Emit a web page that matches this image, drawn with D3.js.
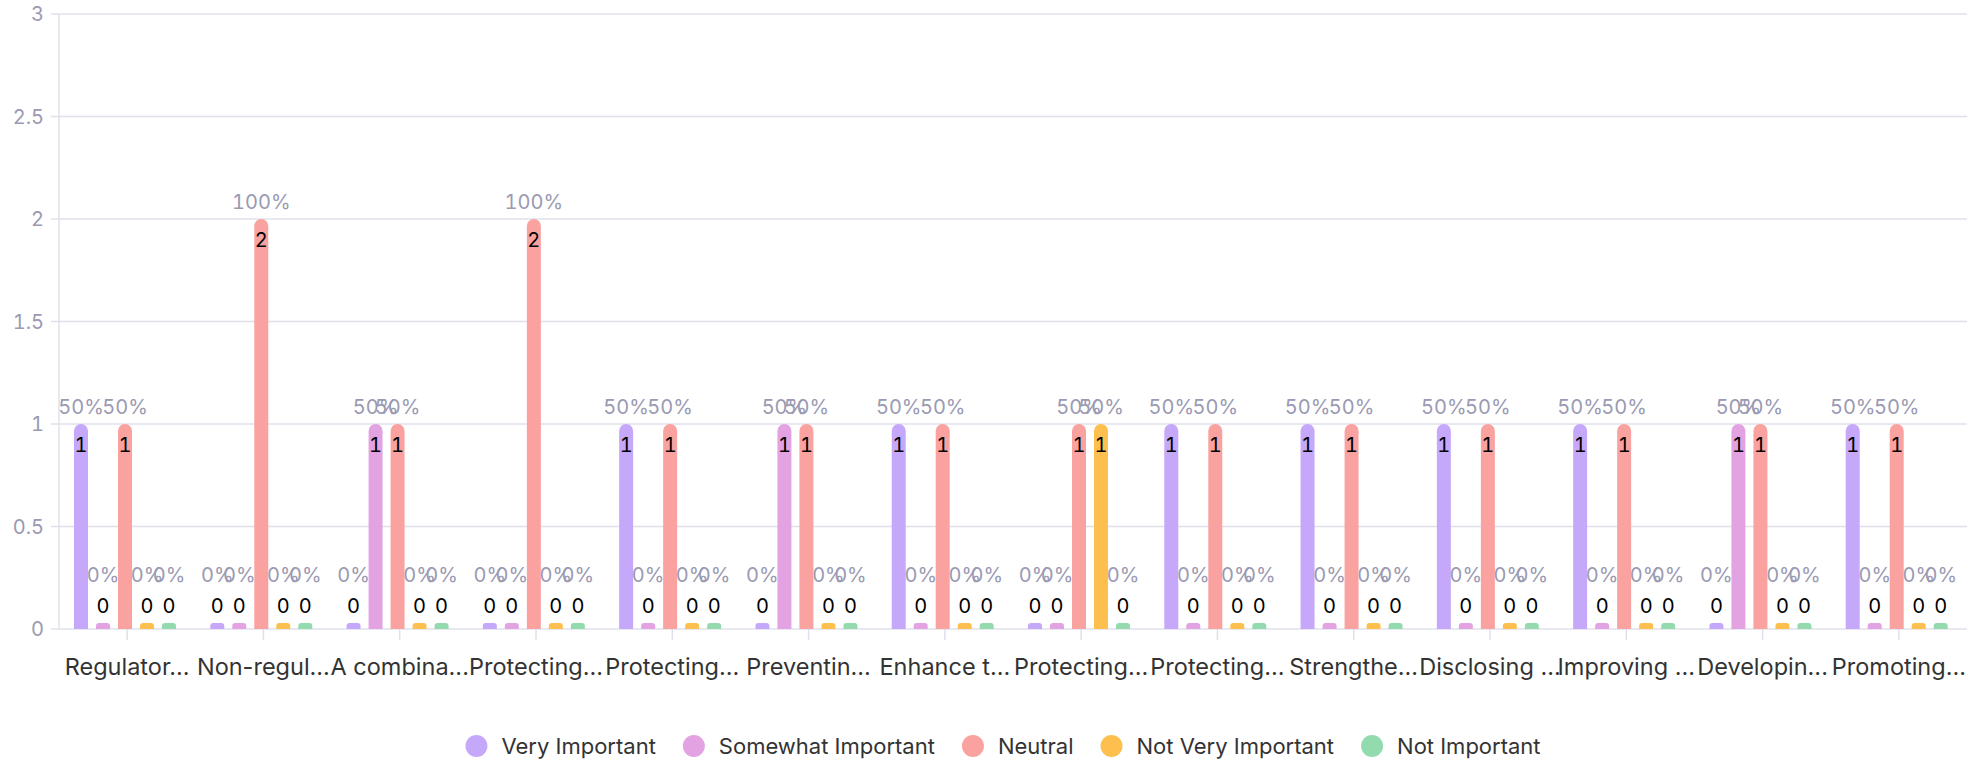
<!DOCTYPE html>
<html><head><meta charset="utf-8">
<script src="https://cdn.jsdelivr.net/npm/d3@7"></script>
<style>
html,body{margin:0;padding:0;background:#fff;}
svg{display:block;font-family:Inter,"Noto Sans",sans-serif;}
.num{font-variant-numeric:tabular-nums;font-feature-settings:"tnum" 1;}
</style></head>
<body><svg id="chart" width="1969" height="762"></svg>
<script>
const categories = ["Regulator...","Non-regul...","A combina...","Protecting...","Protecting...","Preventin...","Enhance t...","Protecting...","Protecting...","Strengthe...","Disclosing ...","Improving ...","Developin...","Promoting..."];
const seriesNames = ["Very Important","Somewhat Important","Neutral","Not Very Important","Not Important"];
const veryImportant     = [1,0,0,0,1,0,1,0,1,1,1,1,0,1];
const somewhatImportant = [0,0,1,0,0,1,0,0,0,0,0,0,1,0];
const neutral           = [1,2,1,2,1,1,1,1,1,1,1,1,1,1];
const notVeryImportant  = [0,0,0,0,0,0,0,1,0,0,0,0,0,0];
const notImportant      = [0,0,0,0,0,0,0,0,0,0,0,0,0,0];
const yTicks = [0,0.5,1,1.5,2,2.5,3];
const seriesValues = [veryImportant,somewhatImportant,neutral,notVeryImportant,notImportant];
const colors = ["#c6a8fb","#e3a3e3","#f9a2a0","#fdc04f","#93dbae"];

const svg = d3.select("#chart");
const pLeft=59, pRight=1967, pTop=14, pBottom=629;
const x = d3.scaleBand().domain(d3.range(categories.length)).range([pLeft,pRight]).padding(0);
const y = d3.scaleLinear().domain([0,3]).range([pBottom,pTop]);
const inner = d3.scaleBand().domain(d3.range(seriesNames.length)).range([15,117]).paddingInner(0.364).paddingOuter(0);

// gridlines
const grid = svg.append("g");
grid.selectAll("line").data(yTicks).join("line")
  .attr("x1",pLeft-8).attr("x2",pRight).attr("y1",d=>y(d)).attr("y2",d=>y(d))
  .attr("stroke","#e0e0eb").attr("stroke-width",1.5);
svg.append("line").attr("x1",pLeft).attr("x2",pLeft).attr("y1",pTop).attr("y2",pBottom)
  .attr("stroke","#e0e0eb").attr("stroke-width",1.5);
svg.append("g").selectAll("text").data(yTicks).join("text").attr("class","num")
  .attr("x",44).attr("y",d=>y(d)).attr("dy","0.36em").attr("text-anchor","end")
  .attr("fill","#9a9ab2").attr("font-size",20).text(d=>d);
// x ticks
svg.append("g").selectAll("line").data(d3.range(categories.length)).join("line")
  .attr("x1",i=>x(i)+x.bandwidth()/2).attr("x2",i=>x(i)+x.bandwidth()/2)
  .attr("y1",pBottom).attr("y2",pBottom+11).attr("stroke","#e0e0eb").attr("stroke-width",1.5);
svg.append("g").selectAll("text").data(categories).join("text")
  .attr("x",(d,i)=>x(i)+x.bandwidth()/2).attr("y",675).attr("text-anchor","middle")
  .attr("fill","#333").attr("font-size",23.5).text(d=>d);

// bars
const totals = categories.map((c,i)=>d3.sum(seriesValues,s=>s[i]));
const bw = inner.bandwidth();
function barPath(x0,w,yTop,yBase){
  const h=yBase-yTop; const r=Math.min(w/2,h/2);
  return `M${x0},${yBase}V${yTop+r}A${r},${r} 0 0 1 ${x0+r},${yTop}H${x0+w-r}A${r},${r} 0 0 1 ${x0+w},${yTop+r}V${yBase}Z`;
}
const barsG = svg.append("g"), lblG = svg.append("g");
seriesValues.forEach((vals,si)=>{
  vals.forEach((v,ci)=>{
    const bx = x(ci)+inner(si);
    const cx = bx+bw/2;
    const yTop = v>0 ? y(v) : pBottom-6;
    barsG.append("path").attr("d",barPath(bx,bw,yTop,pBottom)).attr("fill",colors[si]);
    const pct = Math.round(v/totals[ci]*100)+"%";
    if(v>0){
      lblG.append("text").attr("class","num").attr("x",cx).attr("y",yTop+21).attr("dy","0.36em").attr("text-anchor","middle")
        .attr("fill","#000").attr("font-size",20).text(v);
      lblG.append("text").attr("class","num").attr("x",cx).attr("y",yTop-17).attr("dy","0.36em").attr("text-anchor","middle")
        .attr("fill","#9a9ab2").attr("font-size",20).text(pct);
    } else {
      lblG.append("text").attr("class","num").attr("x",cx).attr("y",yTop-17).attr("dy","0.36em").attr("text-anchor","middle")
        .attr("fill","#000").attr("font-size",20).text(v);
      lblG.append("text").attr("class","num").attr("x",cx).attr("y",yTop-48).attr("dy","0.36em").attr("text-anchor","middle")
        .attr("fill","#9a9ab2").attr("font-size",20).text(pct);
    }
  });
});

// legend
const leg = svg.append("g");
let cur = 0;
const R = 11;
seriesNames.forEach((n,i)=>{
  const g = leg.append("g").attr("transform",`translate(${cur},0)`);
  g.append("circle").attr("cx",0).attr("cy",0).attr("r",R).attr("fill",colors[i]);
  const t = g.append("text").attr("x",25).attr("y",0).attr("dy","0.36em").attr("fill","#333").attr("font-size",22).text(n);
  const w = t.node().getComputedTextLength();
  cur += 25 + w + 38;
});
const totalW = cur - 38 + R;
leg.attr("transform",`translate(${1003 - totalW/2 + R},746)`);
</script></body></html>
